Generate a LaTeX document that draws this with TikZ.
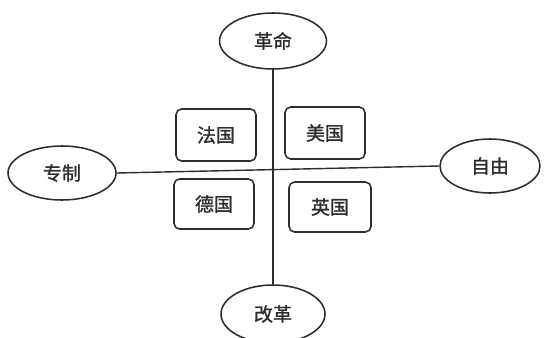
\documentclass[tikz,border=0pt]{standalone}
\usepackage{fontspec}
\newfontfamily\cjk[FakeBold=1.2]{Noto Sans CJK SC}
\usetikzlibrary{shapes.geometric}
\definecolor{inkgray}{RGB}{45,45,45}
\tikzset{
  oval/.style={ellipse,draw=inkgray,line width=1.1pt,inner sep=0pt,text=inkgray,
    font=\cjk\fontsize{13.5}{15}\selectfont},
  country/.style={rectangle,rounded corners=4pt,draw=inkgray,line width=1.1pt,
    inner sep=0pt,text=inkgray,font=\cjk\fontsize{13.5}{15}\selectfont},
  axis/.style={draw=inkgray,line width=1pt}
}
\begin{document}
\begin{tikzpicture}
\clip (0,0) rectangle (13.6,-8.425);
\fill[white] (0,0) rectangle (13.6,-8.425);
% poles
\node[oval,minimum width=2.675cm,minimum height=1.4cm] (geming) at (6.825,-1.025) {革命};
\node[oval,minimum width=2.7cm,minimum height=1.35cm] (zhuanzhi) at (1.55,-4.325) {专制};
\node[oval,minimum width=2.5cm,minimum height=1.35cm] (ziyou) at (12.25,-4.15) {自由};
\node[oval,minimum width=2.6cm,minimum height=1.45cm] (gaige) at (6.825,-7.85) {改革};
% axes
\draw[axis] (geming.south) -- (gaige.north);
\draw[axis] (zhuanzhi.east) -- (ziyou.west);
% countries
\node[country,minimum width=2.0cm,minimum height=1.3cm] (faguo) at (5.4,-3.375) {法国};
\node[country,minimum width=2.0cm,minimum height=1.3cm] (meiguo) at (8.125,-3.325) {美国};
\node[country,minimum width=2.0cm,minimum height=1.25cm] (deguo) at (5.35,-5.1) {德国};
\node[country,minimum width=2.05cm,minimum height=1.25cm] (yingguo) at (8.25,-5.175) {英国};
\end{tikzpicture}
\end{document}
